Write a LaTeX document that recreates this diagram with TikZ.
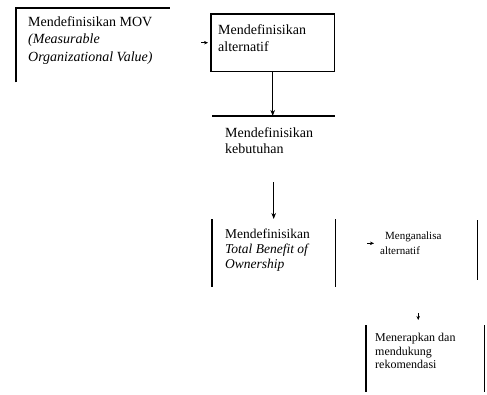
\documentclass[tikz,border=0pt]{standalone}
\usepackage{fontspec}
\setmainfont{Liberation Serif}
\usetikzlibrary{arrows.meta,positioning}

\tikzset{
	frame/.style={rectangle, inner sep=0pt, anchor=north west},
	txt/.style={inner sep=0pt, anchor=north west, align=left, font=\fontsize{14}{17.5}\selectfont},
	rule/.style={line width=1.3pt},
	flow/.style={line width=0.9pt, -{Stealth[length=6pt,width=4.5pt]}},
	stub/.style={line width=0.6pt, -{Stealth[length=4pt,width=3.5pt]}},
}

\begin{document}
\begin{tikzpicture}[x=1pt, y=-1pt]
			%%%%% START %%%%%
			\useasboundingbox (0, 0) rectangle (487, 394);
			
			% frames
			\node[frame, minimum width=154pt, minimum height=74pt] (movbox) at (16, 8) {};
			\node[frame, minimum width=123pt, minimum height=57pt] (altbox) at (211, 14) {};
			\node[frame, minimum width=123pt, minimum height=66pt] (kebbox) at (212, 116) {};
			\node[frame, minimum width=123pt, minimum height=68pt] (tbobox) at (212, 219) {};
			\node[frame, minimum width=143pt, minimum height=60pt] (anabox) at (334, 220) {};
			\node[frame, minimum width=118pt, minimum height=67pt] (rekbox) at (366, 325) {};
			
			% texts
			\node[txt] (mov) at (28, 16) {Mendefinisikan MOV\\\textit{(Measurable}\\\textit{Organizational Value)}};
			\node[txt] (alt) at (218, 24) {Mendefinisikan\\alternatif};
			\node[txt, font=\fontsize{14}{16.5}\selectfont] (keb) at (225, 127) {Mendefinisikan\\kebutuhan};
			\node[txt, font=\fontsize{13.5}{14.8}\selectfont] (tbo) at (225, 229) {Mendefinisikan\\\textit{Total Benefit of}\\\textit{Ownership}};
			\node[txt, font=\fontsize{11}{14.5}\selectfont] (ana) at (380, 232) {\hspace{5pt}Menganalisa\\alternatif};
			\node[txt, font=\fontsize{12}{13.5}\selectfont] (rek) at (375, 333) {Menerapkan dan\\mendukung\\rekomendasi};
			
			% borders
			\draw[rule] (movbox.south west) -- (movbox.north west) -- (movbox.north east);
			\draw[rule] (altbox.north west) rectangle (altbox.south east);
			\draw[rule] (kebbox.north west) -- (kebbox.north east);
			\draw[rule] (tbobox.north west) -- (tbobox.south west);
			\draw[rule] (tbobox.north east) -- (tbobox.south east);
			\draw[rule] (anabox.north east) -- (anabox.south east);
			\draw[rule] (rekbox.north west) -- (rekbox.south west);
			\draw[rule] (rekbox.north east) -- (rekbox.south east);
			
			% arrows
			\draw[flow] (altbox.south) -- (altbox.south |- kebbox.north);
			\draw[flow] (kebbox.south) -- (tbobox.north);
			\draw[stub] ([xshift=-10pt]altbox.west) -- ([xshift=-3pt]altbox.west);
			\draw[stub] ([xshift=-13pt]ana.west) -- ([xshift=-6pt]ana.west);
			\draw[stub] ([xshift=-7pt, yshift=12pt]rekbox.north) -- ([xshift=-7pt, yshift=5pt]rekbox.north);
			
			%%%%% END %%%%%
\end{tikzpicture}
\end{document}
